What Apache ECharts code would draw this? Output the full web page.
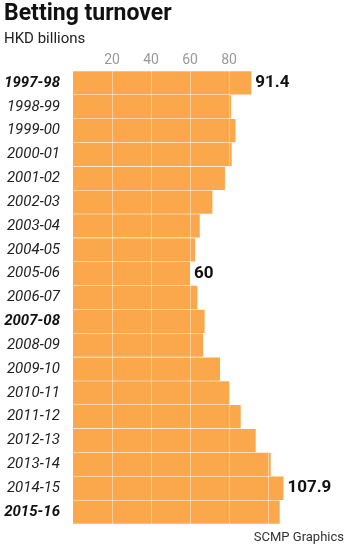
<!DOCTYPE html>
<html>
<head>
<meta charset="utf-8">
<script src="https://cdn.jsdelivr.net/npm/echarts@6/dist/echarts.min.js"></script>
<style>
  html, body { margin: 0; padding: 0; background: #fff; }
  #chart { width: 352px; height: 551px; }
</style>
</head>
<body>
<div id="chart"></div>
<script>
// seasons, top to bottom
var seasons = ['1997-98', '1998-99', '1999-00', '2000-01', '2001-02', '2002-03', '2003-04',
    '2004-05', '2005-06', '2006-07', '2007-08', '2008-09', '2009-10', '2010-11',
    '2011-12', '2012-13', '2013-14', '2014-15', '2015-16'];
// betting turnover, HKD billions
var turnover = [91.4, 81.0, 83.3, 81.4, 77.9, 71.5, 65.0, 62.6, 60.0, 63.8, 67.5,
    66.7, 75.4, 80.2, 86.0, 93.7, 101.4, 107.9, 106.0];
var boldSeasons = ['1997-98', '2007-08', '2015-16'];
var labelledSeasons = ['1997-98', '2005-06', '2014-15'];
var gridValues = [20, 40, 60, 80, 100];
var tickLabels = [20, 40, 60, 80];

var font = 'Roboto, "Noto Sans", sans-serif';
var chart = echarts.init(document.getElementById('chart'));

var barData = seasons.map(function (s, i) {
    var item = { value: turnover[i] };
    if (labelledSeasons.indexOf(s) >= 0) {
        item.label = { show: true };
    }
    return item;
});

chart.setOption({
    animation: false,
    title: [{
        text: 'Betting turnover',
        subtext: 'HKD billions',
        left: 4,
        top: 3,
        padding: 0,
        itemGap: 6,
        textStyle: { fontFamily: font, fontSize: 23, fontWeight: 'bold', color: '#111' },
        subtextStyle: { fontFamily: font, fontSize: 15, color: '#222' }
    }, {
        text: 'SCMP Graphics',
        right: 8,
        bottom: 7,
        padding: 0,
        textStyle: { fontFamily: font, fontSize: 13, fontWeight: 'normal', color: '#333' }
    }],
    grid: { left: 73, right: 45, top: 71, bottom: 27, containLabel: false },
    xAxis: {
        type: 'value',
        position: 'top',
        min: 0,
        max: 120,
        interval: 20,
        axisLine: { show: false },
        axisTick: { show: false },
        splitLine: { show: false },
        axisLabel: {
            margin: 4,
            fontFamily: font,
            fontSize: 14,
            color: '#999',
            formatter: function (v) { return tickLabels.indexOf(v) >= 0 ? String(v) : ''; }
        }
    },
    yAxis: {
        type: 'category',
        inverse: true,
        data: seasons,
        axisLine: { show: false },
        axisTick: { show: false },
        axisLabel: {
            margin: 13,
            formatter: function (v) {
                return boldSeasons.indexOf(v) >= 0 ? '{b|' + v + '}' : '{n|' + v + '}';
            },
            rich: {
                n: { fontFamily: font, fontSize: 15, fontStyle: 'italic', color: '#222' },
                b: { fontFamily: font, fontSize: 15, fontStyle: 'italic', fontWeight: 'bold', color: '#111' }
            }
        }
    },
    series: [{
        type: 'bar',
        data: barData,
        barWidth: 23.3,
        itemStyle: { color: '#fba84c' },
        label: {
            show: false,
            position: 'right',
            distance: 4,
            fontFamily: font,
            fontSize: 17,
            fontWeight: 'bold',
            color: '#111'
        },
        markLine: {
            silent: true,
            symbol: 'none',
            label: { show: false },
            lineStyle: { color: 'rgba(255,255,255,0.45)', width: 1, type: 'solid' },
            data: gridValues.map(function (v) { return { xAxis: v }; })
        }
    }]
});
</script>
</body>
</html>
